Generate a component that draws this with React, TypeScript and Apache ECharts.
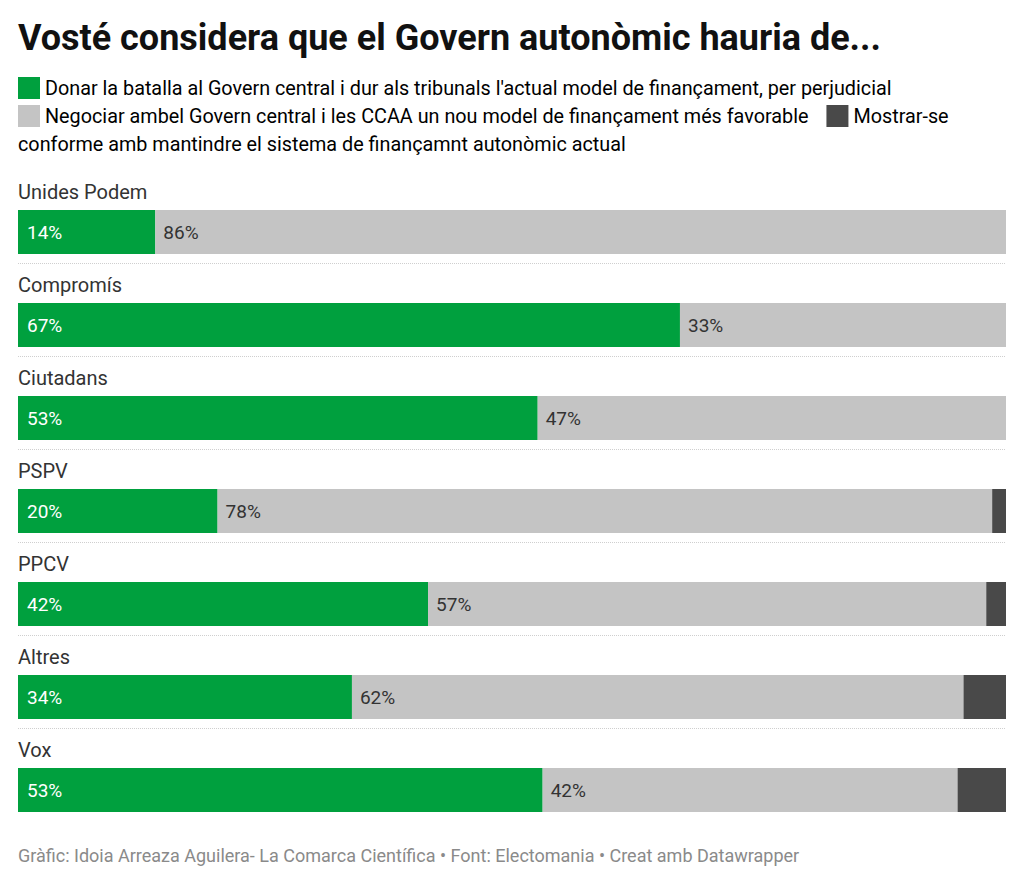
import React, { useEffect, useRef } from "react";
import * as echarts from "echarts";

const titleText = "Vosté considera que el Govern autonòmic hauria de...";
const seriesNames = [
  "Donar la batalla al Govern central i dur als tribunals l'actual model de finançament, per perjudicial",
  "Negociar ambel Govern central i les CCAA un nou model de finançament més favorable",
  "Mostrar-se conforme amb mantindre el sistema de finançamnt autonòmic actual",
];
const categories = ["Unides Podem", "Compromís", "Ciutadans", "PSPV", "PPCV", "Altres", "Vox"];
const batalla = [13.9, 67.0, 52.6, 20.2, 41.5, 33.8, 53.1];
const negociar = [86.1, 33.0, 47.4, 78.4, 56.5, 61.9, 42.0];
const conforme = [0, 0, 0, 1.4, 2.0, 4.3, 4.9];
const colors = ["#00a03e", "#c4c4c4", "#494949"];
const footerText =
  "Gràfic: Idoia Arreaza Aguilera- La Comarca Científica • Font: Electomania • Creat amb Datawrapper";

const FONT = "Roboto, 'Noto Sans', sans-serif";

export default function App() {
  const ref = useRef<HTMLDivElement>(null);
  useEffect(() => {
    if (!ref.current) return;
    const chart = echarts.init(ref.current, null, { renderer: "svg" });
    const pct = (p: any) => (p.value > 0 ? Math.round(p.value) + "%" : "");
    const legendRich: any = {
      t: { fontSize: 19.8, fontFamily: FONT, color: "#333", lineHeight: 28 },
      g: { width: 22, height: 22, backgroundColor: colors[0] },
      s: { width: 22, height: 22, backgroundColor: colors[1] },
      d: { width: 22, height: 22, backgroundColor: colors[2] },
      sp: { width: 5, height: 1 },
      gap: { width: 18, height: 1 },
    };
    const third = seriesNames[2];
    const firstWord = "Mostrar-se";
    const rest = third.slice(firstWord.length + 1);
    const legendText =
      "{g|}{sp|}{t|" + seriesNames[0] + "}\n" +
      "{s|}{sp|}{t|" + seriesNames[1] + "}{gap|}{d|}{sp|}{t|" + firstWord + "}\n" +
      "{t|" + rest + "}";

    chart.setOption({
      animation: false,
      backgroundColor: "#fff",
      title: {
        text: titleText,
        left: 18,
        top: 20,
        padding: 0,
        textStyle: { fontFamily: FONT, fontSize: 36, fontWeight: "bold", color: "#111" },
      },
      grid: { left: 18, right: 18, top: 170, height: 651, containLabel: false },
      xAxis: { type: "value", min: 0, max: 100, show: false },
      yAxis: {
        type: "category",
        data: categories,
        inverse: true,
        axisLine: { show: false },
        axisTick: { show: false },
        axisLabel: { show: false },
        splitLine: {
          show: true,
          showMinLine: false,
          showMaxLine: false,
          lineStyle: { type: "dotted", color: "#cfcfcf", width: 1 },
        },
      },
      graphic: [
        {
          type: "text",
          left: 18,
          top: 74,
          style: { text: legendText, rich: legendRich, fontFamily: FONT, fontSize: 19.8, lineHeight: 28 },
        },
        {
          type: "text",
          left: 18,
          top: 846,
          style: { text: footerText, fontFamily: FONT, fontSize: 18, fill: "#8a8a8a" },
        },
      ],
      series: [
        {
          name: "rowLabels",
          type: "bar",
          stack: "labels",
          barWidth: 31,
          barGap: "0%",
          data: categories.map(() => 0),
          itemStyle: { color: "transparent" },
          label: {
            show: true,
            position: "right",
            distance: 0,
            offset: [0, -3],
            formatter: (p: any) => p.name,
            fontFamily: FONT,
            fontSize: 20,
            color: "#333",
          },
          silent: true,
        },
        {
          name: seriesNames[0],
          type: "bar",
          stack: "total",
          barWidth: 44,
          barGap: "0%",
          data: batalla,
          itemStyle: { color: colors[0] },
          label: {
            show: true,
            position: "insideLeft",
            distance: 9,
            formatter: pct,
            fontFamily: FONT,
            fontSize: 19,
            color: "#fff",
          },
        },
        {
          name: seriesNames[1],
          type: "bar",
          stack: "total",
          barWidth: 44,
          barGap: "0%",
          data: negociar,
          itemStyle: { color: colors[1] },
          label: {
            show: true,
            position: "insideLeft",
            distance: 8,
            formatter: pct,
            fontFamily: FONT,
            fontSize: 19,
            color: "#333",
          },
        },
        {
          name: seriesNames[2],
          type: "bar",
          stack: "total",
          barWidth: 44,
          barGap: "0%",
          data: conforme,
          itemStyle: { color: colors[2] },
          label: { show: false },
        },
      ],
    });
    return () => chart.dispose();
  }, []);
  return (
    <div
      ref={ref}
      style={{ position: "fixed", left: 0, top: 0, width: 1024, height: 885, background: "#fff" }}
    />
  );
}
